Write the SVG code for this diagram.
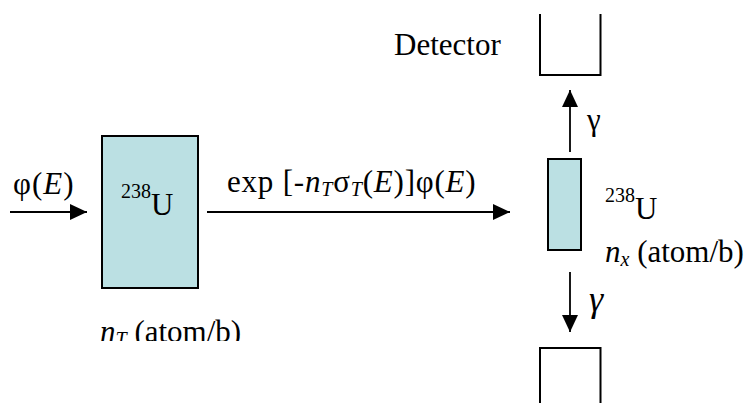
<svg xmlns="http://www.w3.org/2000/svg" width="752" height="403" viewBox="0 0 752 403">
<style>
.it{font-style:italic}
.sub{font-size:20px;font-style:italic}
.sup{font-size:20px}
.box{fill:#bbe0e3;stroke:#000;stroke-width:2}
.det{fill:none;stroke:#000;stroke-width:2}
.conn{stroke:#000;stroke-width:1.8;fill:none;marker-end:url(#ah)}
</style>
<defs>
<marker id="ah" markerUnits="userSpaceOnUse" markerWidth="17" markerHeight="16" refX="17" refY="8" orient="auto">
<path d="M0,0 L17,8 L0,16 z" fill="#000"/>
</marker>
<clipPath id="clipNT"><rect x="0" y="0" width="752" height="341"/></clipPath>
</defs>
<g id="connectors">
<line class="conn" x1="10" y1="212" x2="87" y2="212"/>
<line class="conn" x1="207" y1="212" x2="510" y2="212"/>
<line class="conn" x1="570" y1="152" x2="570" y2="90"/>
<line class="conn" x1="570" y1="272" x2="570" y2="332"/>
</g>
<g id="flux-in">
<text x="13" y="194" font-family="Liberation Serif" font-size="31" letter-spacing="1">φ(<tspan class="it">E</tspan>)</text>
</g>
<g id="thick-target">
<rect class="box" x="102" y="136" width="96" height="152"/>
<text x="121" y="215" font-family="Liberation Serif" font-size="31"><tspan class="sup" dy="-17">238</tspan><tspan dy="17">U</tspan></text>
<text x="100" y="342" font-family="Liberation Serif" font-size="31" clip-path="url(#clipNT)"><tspan class="it">n</tspan><tspan class="sub" dy="4">T</tspan><tspan dy="-4"> (atom/b)</tspan></text>
</g>
<g id="flux-out">
<text x="227" y="192" font-family="Liberation Serif" font-size="31" letter-spacing="0.8">exp [-<tspan class="it">n</tspan><tspan class="sub" dy="4">T</tspan><tspan dy="-4">σ</tspan><tspan class="sub" dy="4">T</tspan><tspan dy="-4">(</tspan><tspan class="it">E</tspan>)]φ(<tspan class="it">E</tspan>)</text>
</g>
<g id="thin-sample">
<rect class="box" x="548" y="159" width="33" height="91"/>
<text x="605" y="219" font-family="Liberation Serif" font-size="31"><tspan class="sup" dy="-17">238</tspan><tspan dy="17">U</tspan></text>
<text x="605" y="262" font-family="Liberation Serif" font-size="31"><tspan class="it">n</tspan><tspan class="sub" dy="4">x</tspan><tspan dy="-4"> (atom/b)</tspan></text>
</g>
<g id="detector-top">
<path class="det" d="M540,14 V75 H600.5 V14"/>
<text x="394" y="55" font-family="Liberation Serif" font-size="31">Detector</text>
<text x="587" y="130" font-family="Liberation Serif" font-size="31">γ</text>
</g>
<g id="detector-bottom">
<path class="det" d="M540,403 V348 H600.5 V403"/>
<text x="589" y="311" font-family="Liberation Serif" font-size="36" class="it">γ</text>
</g>
</svg>
